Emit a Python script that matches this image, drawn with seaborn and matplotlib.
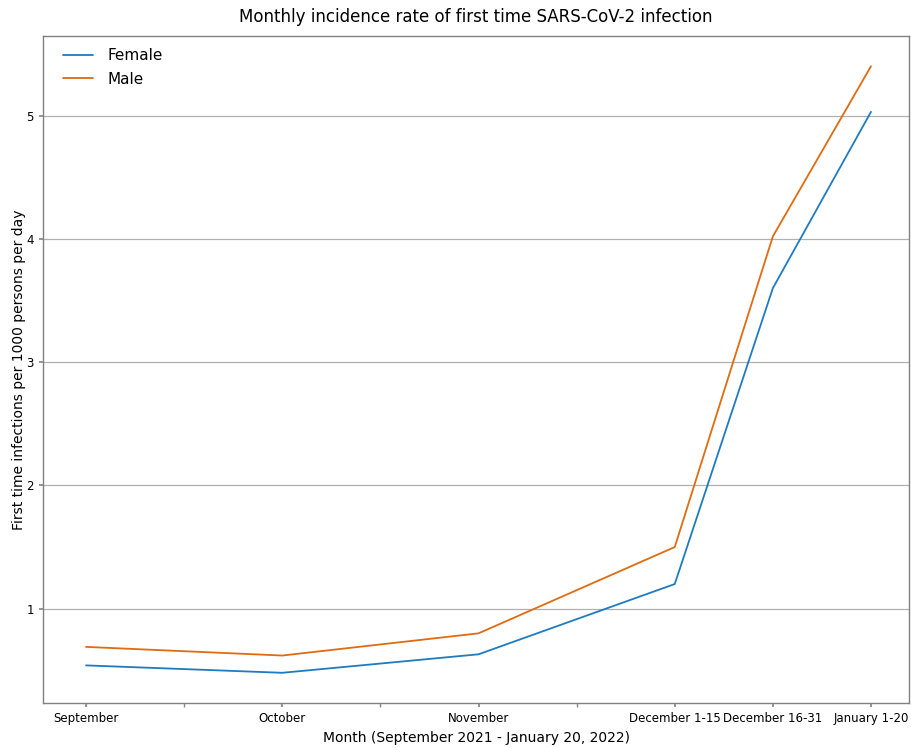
import matplotlib
matplotlib.use("Agg")
import matplotlib.pyplot as plt
import seaborn as sns
import pandas as pd
from matplotlib.ticker import FixedLocator

periods = ["September", "October", "November", "December 1-15", "December 16-31", "January 1-20"]
period_pos = [0, 2, 4, 6, 7, 8]
female = [0.54, 0.48, 0.63, 1.20, 3.60, 5.03]
male = [0.69, 0.62, 0.80, 1.50, 4.02, 5.40]

df = pd.DataFrame({
    "pos": period_pos * 2,
    "rate": female + male,
    "Sex": ["Female"] * len(female) + ["Male"] * len(male),
})

sns.set_theme(style="white")
plt.rcParams["font.family"] = ["DejaVu Sans"]
plt.rcParams["text.color"] = "black"
plt.rcParams["axes.labelcolor"] = "black"
plt.rcParams["xtick.color"] = "black"
plt.rcParams["ytick.color"] = "black"

fig, ax = plt.subplots(figsize=(9.12, 7.48), dpi=100)
sns.lineplot(data=df, x="pos", y="rate", hue="Sex", palette=["#1f7bc0", "#e06b10"],
             linewidth=1.3, ax=ax)

ax.set_xlim(-0.44, 8.39)
ax.set_xticks(period_pos)
ax.set_xticklabels(periods, fontsize=8.5)
ax.xaxis.set_minor_locator(FixedLocator([1, 3, 5]))
ax.tick_params(axis="x", which="both", bottom=True, length=3, color="#888888", labelcolor="black")
ax.tick_params(axis="y", left=True, length=3, color="#888888", labelsize=8.5, labelcolor="black")
ax.set_yticks([1, 2, 3, 4, 5])
ax.yaxis.grid(True, color="#b0b0b0", linewidth=0.9)
ax.set_axisbelow(True)
for s in ax.spines.values():
    s.set_color("#808080")
    s.set_linewidth(1.0)

ax.set_xlabel("Month (September 2021 - January 20, 2022)", fontsize=10, color="black")
ax.set_ylabel("First time infections per 1000 persons per day", fontsize=10, color="black",
              labelpad=0)
ax.set_title("Monthly incidence rate of first time SARS-CoV-2 infection", fontsize=12, pad=10,
             color="black")
leg = ax.legend(loc="upper left", bbox_to_anchor=(0.0, 1.011), frameon=False, fontsize=11,
                borderaxespad=0.9, handletextpad=0.9, labelspacing=0.55)
for t in leg.get_texts():
    t.set_color("black")

fig.subplots_adjust(left=0.047, right=0.997, top=0.952, bottom=0.06)
fig.savefig("out.png", dpi=100)
